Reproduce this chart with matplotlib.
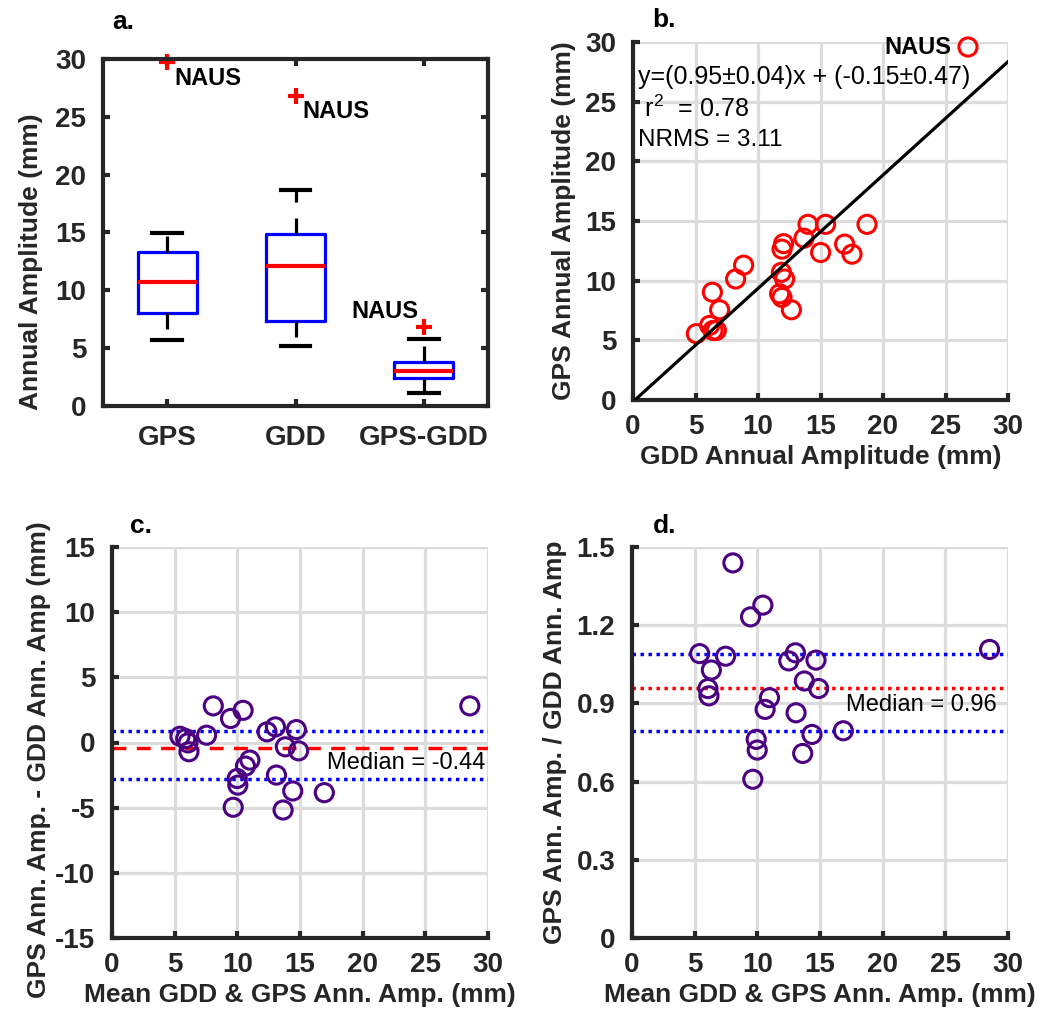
import matplotlib
matplotlib.use("Agg")
import matplotlib.pyplot as plt

plt.rcParams['font.family'] = ['Liberation Sans', 'DejaVu Sans']
plt.rcParams['mathtext.fontset'] = 'custom'
plt.rcParams['mathtext.rm'] = 'Liberation Sans'
plt.rcParams['mathtext.it'] = 'Liberation Sans'
plt.rcParams['mathtext.default'] = 'regular'
plt.rcParams['axes.unicode_minus'] = False

# panel a: box statistics
box_labels = ['GPS', 'GDD', 'GPS-GDD']
box_whislo = [5.7, 5.2, 1.1]
box_q1 = [8.0, 7.35, 2.45]
box_med = [10.7, 12.1, 3.05]
box_q3 = [13.3, 14.85, 3.8]
box_whishi = [14.95, 18.7, 5.8]
box_outlier = [29.7, 26.8, 6.85]

# panel b: GDD vs GPS annual amplitude (mm)
gdd_amp = [5.07, 6.13, 6.4, 6.67, 6.35, 6.93, 8.21, 8.85, 11.92, 12.05, 11.87, 12.13,
           11.73, 11.92, 12.67, 13.68, 14.0, 15.41, 15.01, 16.93, 17.52, 18.72, 26.8]
gps_amp = [5.56, 6.25, 5.83, 5.83, 9.03, 7.56, 10.14, 11.3, 12.64, 13.1, 10.7, 10.14,
           8.9, 8.6, 7.56, 13.56, 14.72, 14.72, 12.36, 13.06, 12.22, 14.72, 29.58]
fit_slope = 0.95
fit_intercept = -0.15
fit_text = 'y=(0.95\u00b10.04)x + (-0.15\u00b10.47)'
r2_text = ' r$^{2}$  = 0.78'
nrms_text = 'NRMS = 3.11'

# panel c: mean amplitude vs difference
c_mean = [5.42, 5.88, 6.06, 6.14, 7.55, 8.08, 9.46, 10.46, 12.37, 13.04, 14.71, 13.83,
          14.89, 11.0, 10.65, 9.99, 10.04, 9.67, 13.12, 14.42, 13.65, 16.94, 28.55]
c_diff = [0.48, 0.3, -0.03, -0.71, 0.56, 2.81, 1.84, 2.47, 0.82, 1.2, 0.99, -0.33,
          -0.64, -1.35, -1.81, -2.76, -3.27, -4.97, -2.5, -3.72, -5.18, -3.85, 2.81]
c_median = -0.44
c_upper = 0.89
c_lower = -2.83

# panel d: mean amplitude vs ratio
d_mean = [8.05, 10.44, 9.46, 5.40, 7.47, 6.33, 13.04, 12.51, 14.68, 13.75, 14.89, 6.06,
          6.14, 10.97, 10.62, 13.09, 14.36, 16.86, 9.91, 9.99, 13.62, 9.64, 28.53]
d_ratio = [1.439, 1.277, 1.232, 1.091, 1.081, 1.028, 1.094, 1.063, 1.066, 0.986, 0.957, 0.957,
           0.929, 0.922, 0.877, 0.864, 0.781, 0.795, 0.762, 0.721, 0.708, 0.609, 1.107]
d_median = 0.96
d_upper = 1.091
d_lower = 0.795

W, H = 1049, 1019
fig = plt.figure(figsize=(W / 100, H / 100), dpi=100)


def px_axes(left, right, top, bottom):
    return fig.add_axes([left / W, 1 - bottom / H, (right - left) / W, (bottom - top) / H])


axis_col = '#262626'
grid_col = '#dcdcdc'
tick_fs = 20
label_fs = 19
purple = '#4B0082'


def style_axes(ax, box=False):
    for s in ['left', 'bottom', 'top', 'right']:
        ax.spines[s].set_linewidth(3)
        ax.spines[s].set_color(axis_col)
    if not box:
        ax.spines['top'].set_visible(False)
        ax.spines['right'].set_visible(False)
        ax.grid(True, color=grid_col, linewidth=2.3)
        ax.set_axisbelow(True)
    ax.tick_params(direction='in', length=5, width=3, color=axis_col,
                   labelsize=tick_fs, labelcolor=axis_col, top=box, right=box)
    ax.tick_params(axis='y', pad=12)
    ax.tick_params(axis='x', pad=10)
    for lab in ax.get_xticklabels() + ax.get_yticklabels():
        lab.set_fontweight('bold')


# ---- a. box plot
ax1 = px_axes(103, 488, 59, 406)
stats = []
for i in range(3):
    stats.append(dict(label=box_labels[i], whislo=box_whislo[i], q1=box_q1[i], med=box_med[i],
                      q3=box_q3[i], whishi=box_whishi[i], fliers=[box_outlier[i]]))
ax1.bxp(stats, positions=[1, 2, 3], widths=0.46, showfliers=True,
        boxprops=dict(color='#0000ff', linewidth=2.3),
        medianprops=dict(color='#ff0000', linewidth=3),
        whiskerprops=dict(color='black', linewidth=2.3, linestyle=(0, (5, 5))),
        capprops=dict(color='black', linewidth=3),
        flierprops=dict(marker='+', markeredgecolor='#ff0000', markersize=12, markeredgewidth=3))
for ln in ax1.lines:
    ln.set_clip_on(False)
ax1.set_xlim(0.5, 3.5)
ax1.set_ylim(0, 30)
ax1.set_yticks([0, 5, 10, 15, 20, 25, 30])
ax1.set_xticks([1, 2, 3])
ax1.set_xticklabels(box_labels)
style_axes(ax1, box=True)
ax1.tick_params(axis='x', pad=14)
ax1.set_ylabel('Annual Amplitude (mm)', fontsize=label_fs, fontweight='bold', color=axis_col, labelpad=9)
ax1.yaxis.label.set_y(0.415)
ax1.annotate('NAUS', (1, box_outlier[0]), xytext=(5, -3), textcoords='offset points',
             fontsize=17, fontweight='bold', ha='left', va='top')
ax1.annotate('NAUS', (2, box_outlier[1]), xytext=(5, -3), textcoords='offset points',
             fontsize=17, fontweight='bold', ha='left', va='top')
ax1.annotate('NAUS', (3, box_outlier[2]), xytext=(-4, 3), textcoords='offset points',
             fontsize=17, fontweight='bold', ha='right', va='bottom')

# ---- b. scatter with fit
ax2 = px_axes(633, 1008, 42, 400)
ax2.scatter(gdd_amp, gps_amp, s=170, facecolors='none', edgecolors='#ff0000', linewidths=2.2,
            clip_on=False, zorder=3)
ax2.plot([0, 30], [fit_intercept, fit_slope * 30 + fit_intercept], color='black', linewidth=2.3, zorder=4)
ax2.set_xlim(0, 30)
ax2.set_ylim(0, 30)
ax2.set_xticks(range(0, 31, 5))
ax2.set_yticks(range(0, 31, 5))
style_axes(ax2)
ax2.set_xlabel('GDD Annual Amplitude (mm)', fontsize=label_fs, fontweight='bold', color=axis_col, labelpad=4)
ax2.set_ylabel('GPS Annual Amplitude (mm)', fontsize=label_fs, fontweight='bold', color=axis_col, labelpad=7)
ax2.text(0.4, 27.1, fit_text, fontsize=18, va='center', ha='left')
ax2.text(0.4, 24.4, r2_text, fontsize=18, va='center', ha='left')
ax2.text(0.4, 21.8, nrms_text, fontsize=17.5, va='center', ha='left')
ax2.annotate('NAUS', (gdd_amp[-1], gps_amp[-1]), xytext=(-12, 0), textcoords='offset points',
             fontsize=17, fontweight='bold', ha='right', va='center')

# ---- c. difference
ax3 = px_axes(112, 488, 547, 938)
ax3.scatter(c_mean, c_diff, s=170, facecolors='none', edgecolors=purple, linewidths=2.2, zorder=3)
ax3.axhline(c_upper, color='#0000ff', linewidth=2.5, linestyle=(0, (1, 1.3)), zorder=2)
ax3.axhline(c_lower, color='#0000ff', linewidth=2.5, linestyle=(0, (1, 1.3)), zorder=2)
ax3.axhline(c_median, color='#ff0000', linewidth=2.5, linestyle=(0, (4, 3)), zorder=2)
ax3.set_xlim(0, 30)
ax3.set_ylim(-15, 15)
ax3.set_xticks(range(0, 31, 5))
ax3.set_yticks(range(-15, 16, 5))
style_axes(ax3)
ax3.set_xlabel('Mean GDD & GPS Ann. Amp. (mm)', fontsize=label_fs, fontweight='bold', color=axis_col, labelpad=4)
ax3.set_ylabel('GPS Ann. Amp. - GDD Ann. Amp (mm)', fontsize=label_fs, fontweight='bold', color=axis_col, labelpad=3)
ax3.yaxis.label.set_y(0.455)
ax3.text(29.8, -1.6, 'Median = %.2f' % c_median, fontsize=17, ha='right', va='center')

# ---- d. ratio
ax4 = px_axes(632, 1008, 547, 938)
ax4.scatter(d_mean, d_ratio, s=170, facecolors='none', edgecolors=purple, linewidths=2.2, zorder=3)
ax4.axhline(d_upper, color='#0000ff', linewidth=2.5, linestyle=(0, (1, 1.3)), zorder=2)
ax4.axhline(d_lower, color='#0000ff', linewidth=2.5, linestyle=(0, (1, 1.3)), zorder=2)
ax4.axhline(d_median, color='#ff0000', linewidth=2.5, linestyle=(0, (1, 1.3)), zorder=2)
ax4.set_xlim(0, 30)
ax4.set_ylim(0, 1.5)
ax4.set_xticks(range(0, 31, 5))
ax4.set_yticks([0, 0.3, 0.6, 0.9, 1.2, 1.5])
ax4.set_yticklabels(['0', '0.3', '0.6', '0.9', '1.2', '1.5'])
style_axes(ax4)
ax4.set_xlabel('Mean GDD & GPS Ann. Amp. (mm)', fontsize=label_fs, fontweight='bold', color=axis_col, labelpad=4)
ax4.set_ylabel('GPS Ann. Amp. / GDD Ann. Amp', fontsize=label_fs, fontweight='bold', color=axis_col, labelpad=7)
ax4.text(29.1, 0.893, 'Median = %.2f' % d_median, fontsize=17, ha='right', va='center')

# panel letters
for lab, x, y in [('a.', 112, 22), ('b.', 652, 20), ('c.', 130, 526), ('d.', 653, 526)]:
    fig.text(x / W, 1 - y / H, lab, fontsize=19, fontweight='bold', va='center', ha='left')

fig.savefig('out.png', dpi=100)
